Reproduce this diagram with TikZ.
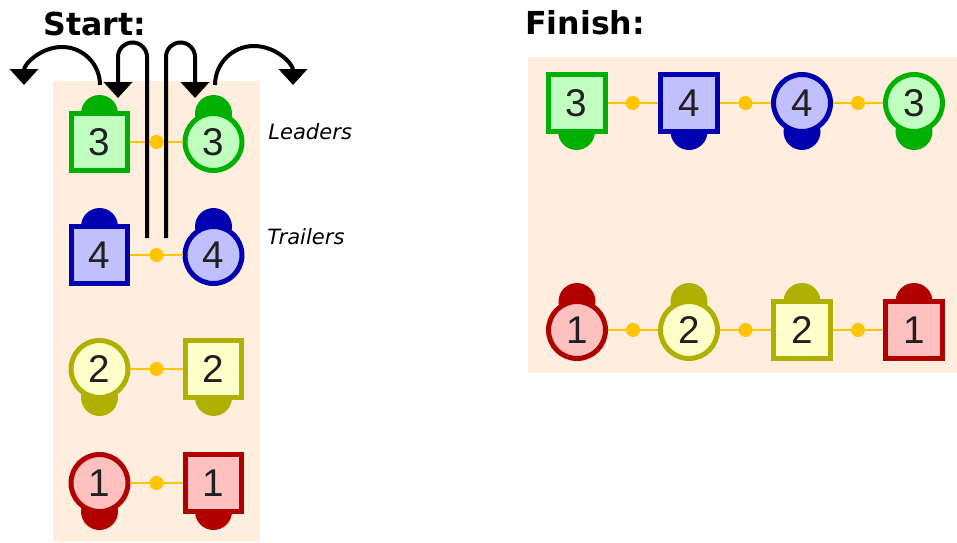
\documentclass[tikz,border=0pt]{standalone}
\usepackage{fontspec}
\setmainfont{DejaVu Sans}
\newfontfamily\digitfont{Liberation Sans}
\usetikzlibrary{arrows.meta,backgrounds,calc}

\definecolor{peach}{HTML}{FFEEDD}
\definecolor{linkgold}{HTML}{FFC400}
\definecolor{digitgray}{HTML}{202020}
\definecolor{grnline}{HTML}{00B000}
\definecolor{grnfill}{HTML}{C0FFC0}
\definecolor{bluline}{HTML}{0000B0}
\definecolor{blufill}{HTML}{C0C0FF}
\definecolor{oliline}{HTML}{B0B000}
\definecolor{olifill}{HTML}{FFFFCC}
\definecolor{redline}{HTML}{B00000}
\definecolor{redfill}{HTML}{FFC0C0}

\tikzset{
  car/.style={minimum size=1.14cm, inner sep=0pt, line width=0.1cm, text=digitgray,
    font=\digitfont\fontsize{22}{22}\selectfont},
  sqcar/.style={car, rectangle, draw=#1line, fill=#1fill},
  rdcar/.style={car, circle, draw=#1line, fill=#1fill},
  hitch/.style={draw=linkgold, line width=1.2pt},
  hitchdot/.style={circle, fill=linkgold, inner sep=0pt, minimum size=0.28cm},
  movearrow/.style={line width=0.08cm, -{Triangle[width=0.56cm,length=0.32cm]}},
  heading/.style={anchor=base west, inner sep=0pt, font=\fontsize{18}{21}\selectfont\bfseries},
  rolelabel/.style={anchor=base west, inner sep=0pt, font=\fontsize{12}{14}\selectfont\itshape},
}

\begin{document}
\begin{tikzpicture}[x=0.02cm, y=0.02cm]
                \useasboundingbox (0,0) rectangle (957,542);
                
                % Titles
                \node[heading] (start) at (43,506) {Start:};
                \node[heading] (finish) at (525,507) {Finish:};
                
                % Start: cars
                \node[sqcar=grn] (sL3) at (99.5,400) {3};
                \node[rdcar=grn] (cL3) at (213.5,400) {3};
                \node[sqcar=blu] (sL4) at (99.5,287) {4};
                \node[rdcar=blu] (cL4) at (213.5,287) {4};
                \node[rdcar=oli] (cL2) at (99.5,173) {2};
                \node[sqcar=oli] (sL2) at (213.5,173) {2};
                \node[rdcar=red] (cL1) at (99.5,59) {1};
                \node[sqcar=red] (sL1) at (213.5,59) {1};
                
                \node[rolelabel] (leaders) at (268,403) {Leaders};
                \node[rolelabel] (trailers) at (267,298) {Trailers};
                
                % Finish: cars
                \node[sqcar=grn] (sR3) at (576.5,439) {3};
                \node[sqcar=blu] (sR4) at (689,439) {4};
                \node[rdcar=blu] (cR4) at (802,439) {4};
                \node[rdcar=grn] (cR3) at (914,439) {3};
                \node[rdcar=red] (cR1) at (577,212) {1};
                \node[rdcar=oli] (cR2) at (689,212) {2};
                \node[sqcar=oli] (sR2) at (802,212) {2};
                \node[sqcar=red] (sR1) at (914,212) {1};
                
                % Backgrounds and bumps
                \begin{scope}[on background layer]
                    \fill[peach] (53,0) rectangle (260,461);
                    \fill[peach] (528,169) rectangle (957,485);
                    \fill[grnline] ($(sL3)+(0,28.5)$) circle (18.5);
                    \fill[grnline] ($(cL3)+(0,28.5)$) circle (18.5);
                    \fill[bluline] ($(sL4)+(0,28.5)$) circle (18.5);
                    \fill[bluline] ($(cL4)+(0,28.5)$) circle (18.5);
                    \fill[oliline] ($(cL2)+(0,-28.5)$) circle (18.5);
                    \fill[oliline] ($(sL2)+(0,-28.5)$) circle (18.5);
                    \fill[redline] ($(cL1)+(0,-28.5)$) circle (18.5);
                    \fill[redline] ($(sL1)+(0,-28.5)$) circle (18.5);
                    \fill[grnline] ($(sR3)+(0,-28.5)$) circle (18.5);
                    \fill[bluline] ($(sR4)+(0,-28.5)$) circle (18.5);
                    \fill[bluline] ($(cR4)+(0,-28.5)$) circle (18.5);
                    \fill[grnline] ($(cR3)+(0,-28.5)$) circle (18.5);
                    \fill[redline] ($(cR1)+(0,28.5)$) circle (18.5);
                    \fill[oliline] ($(cR2)+(0,28.5)$) circle (18.5);
                    \fill[oliline] ($(sR2)+(0,28.5)$) circle (18.5);
                    \fill[redline] ($(sR1)+(0,28.5)$) circle (18.5);
                \end{scope}
                
                % Couplings
                \draw[hitch] (sL3) -- (cL3) node[hitchdot, midway] (dL3) {};
                \draw[hitch] (sL4) -- (cL4) node[hitchdot, midway] (dL4) {};
                \draw[hitch] (cL2) -- (sL2) node[hitchdot, midway] (dL2) {};
                \draw[hitch] (cL1) -- (sL1) node[hitchdot, midway] (dL1) {};
                \draw[hitch] (sR3) -- (sR4) node[hitchdot, midway] (dR34) {};
                \draw[hitch] (sR4) -- (cR4) node[hitchdot, midway] (dR44) {};
                \draw[hitch] (cR4) -- (cR3) node[hitchdot, midway] (dR43) {};
                \draw[hitch] (cR1) -- (cR2) node[hitchdot, midway] (dR12) {};
                \draw[hitch] (cR2) -- (sR2) node[hitchdot, midway] (dR22) {};
                \draw[hitch] (sR2) -- (sR1) node[hitchdot, midway] (dR21) {};
                
                % Moves
                \draw[movearrow] ($(sL3)+(0.5,57)$) arc[start angle=0, end angle=180, radius=38];
                \draw[movearrow] ($(cL3)+(1.5,57)$) arc[start angle=180, end angle=0, radius=39];
                \draw[movearrow] ($(dL4)+(-9.5,17)$) -- ++(0,181) arc[start angle=0, end angle=180, radius=14.5] -- ($(sL3)+(18.5,44)$);
                \draw[movearrow] ($(dL4)+(9.5,17)$) -- ++(0,181) arc[start angle=180, end angle=0, radius=14.5] -- ($(cL3)+(-18.5,44)$);
            \end{tikzpicture}
\end{document}
